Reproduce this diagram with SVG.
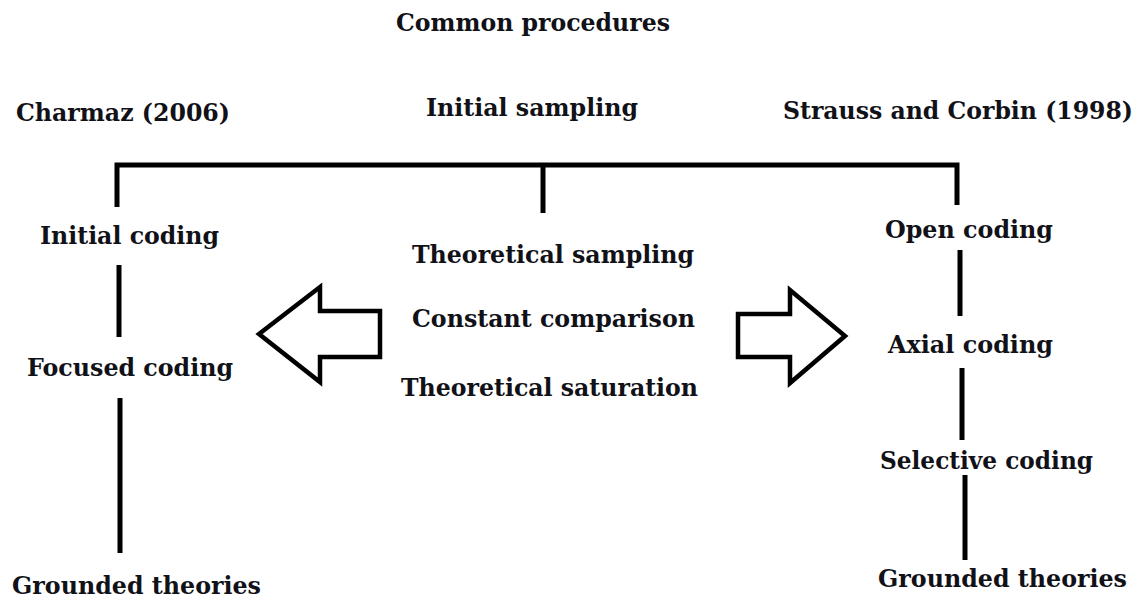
<svg xmlns="http://www.w3.org/2000/svg" width="1141" height="599" viewBox="0 0 1141 599">
  <style>
    .lbl { font-family: "DejaVu Serif", "Liberation Serif", serif; font-weight: bold; font-size: 24px; fill: #111118; }
    .ln { stroke: #000; stroke-width: 5; fill: none; }
    .arrow { stroke: #000; stroke-width: 4.5; fill: #fff; stroke-linejoin: miter; }
  </style>
  <rect width="1141" height="599" fill="#fff"/>

  <g id="connectors">
    <!-- top bracket joining both columns and the common column -->
    <polyline class="ln" points="117,207 117,165 957,165 957,205"/>
    <line class="ln" x1="543" y1="165" x2="543" y2="213"/>
    <!-- left column -->
    <line class="ln" x1="119" y1="265" x2="119" y2="337"/>
    <line class="ln" x1="120" y1="398" x2="120" y2="553"/>
    <!-- right column -->
    <line class="ln" x1="960" y1="250" x2="960" y2="316"/>
    <line class="ln" x1="962" y1="368" x2="962" y2="440"/>
    <line class="ln" x1="965" y1="475" x2="965" y2="560"/>
  </g>

  <g id="arrow-left">
    <polygon class="arrow" points="380,311 320,311 320,287 259,334 320,382 320,357 380,357"/>
  </g>
  <g id="arrow-right">
    <polygon class="arrow" points="738,314 790,314 790,290 845,336 790,383 790,357 738,357"/>
  </g>

  <g id="title"><text class="lbl" x="396" y="31" textLength="274" lengthAdjust="spacingAndGlyphs">Common procedures</text></g>
  <g id="charmaz"><text class="lbl" x="16" y="121" textLength="214" lengthAdjust="spacingAndGlyphs">Charmaz (2006)</text></g>
  <g id="initial-sampling"><text class="lbl" x="426" y="116" textLength="212" lengthAdjust="spacingAndGlyphs">Initial sampling</text></g>
  <g id="strauss-corbin"><text class="lbl" x="783" y="119" textLength="350" lengthAdjust="spacingAndGlyphs">Strauss and Corbin (1998)</text></g>

  <g id="initial-coding"><text class="lbl" x="40" y="244" textLength="179" lengthAdjust="spacingAndGlyphs">Initial coding</text></g>
  <g id="focused-coding"><text class="lbl" x="27" y="376" textLength="206" lengthAdjust="spacingAndGlyphs">Focused coding</text></g>
  <g id="grounded-left"><text class="lbl" x="12" y="594" textLength="249" lengthAdjust="spacingAndGlyphs">Grounded theories</text></g>

  <g id="theoretical-sampling"><text class="lbl" x="412" y="263" textLength="282" lengthAdjust="spacingAndGlyphs">Theoretical sampling</text></g>
  <g id="constant-comparison"><text class="lbl" x="412" y="327" textLength="283" lengthAdjust="spacingAndGlyphs">Constant comparison</text></g>
  <g id="theoretical-saturation"><text class="lbl" x="401" y="396" textLength="297" lengthAdjust="spacingAndGlyphs">Theoretical saturation</text></g>

  <g id="open-coding"><text class="lbl" x="885" y="238" textLength="168" lengthAdjust="spacingAndGlyphs">Open coding</text></g>
  <g id="axial-coding"><text class="lbl" x="888" y="353" textLength="165" lengthAdjust="spacingAndGlyphs">Axial coding</text></g>
  <g id="selective-coding"><text class="lbl" x="880" y="469" textLength="213" lengthAdjust="spacingAndGlyphs">Selective coding</text></g>
  <g id="grounded-right"><text class="lbl" x="878" y="587" textLength="249" lengthAdjust="spacingAndGlyphs">Grounded theories</text></g>
</svg>
